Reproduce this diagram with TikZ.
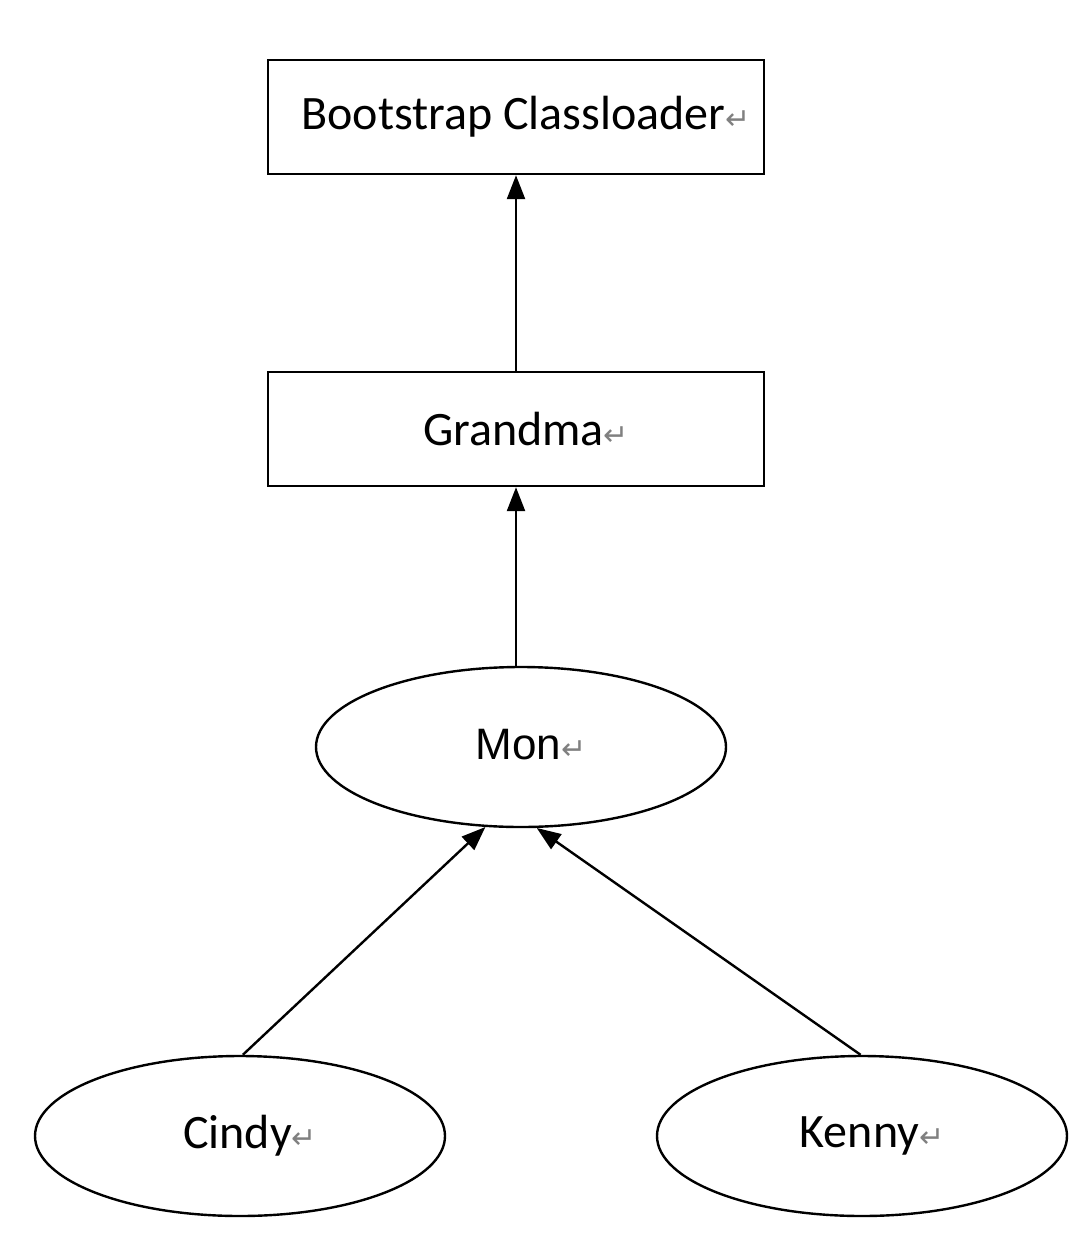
\documentclass[tikz,border=0pt]{standalone}
\usepackage{fontspec}
\setmainfont{Carlito}
\newfontfamily\arialfont{Liberation Sans}
\newfontfamily\symfont{DejaVu Sans}
\usetikzlibrary{arrows.meta,shapes.geometric}
\newcommand{\ret}{\textcolor{gray}{\symfont\fontsize{15}{17}\selectfont ↵}}
\tikzset{
  box/.style={draw, line width=1.2pt, minimum width=248pt, minimum height=57pt, inner sep=0pt,
    font=\fontsize{24}{28}\selectfont},
  oval/.style={draw, ellipse, line width=1.2pt, minimum width=205pt, minimum height=80pt, inner sep=0pt,
    font=\fontsize{24}{28}\selectfont},
  parent/.style={-{Triangle[length=12pt,width=9pt]}, line width=1.2pt}
}
\begin{document}
\begin{tikzpicture}[x=0.5pt,y=-0.5pt]
        \useasboundingbox (0,0) rectangle (1088,1236);
        \node[box] (boot) at (516,117) {\hspace*{10pt}Bootstrap Classloader\ret};
        \node[box] (grandma) at (516,429) {\hspace*{10pt}Grandma\ret};
        \node[oval] (mon) at (521,747) {\hspace*{10pt}\raisebox{3pt}{\arialfont\fontsize{22}{26}\selectfont Mon\ret}};
        \node[oval] (cindy) at (240,1136) {\hspace*{10pt}\raisebox{2pt}{Cindy\ret}};
        \node[oval] (kenny) at (862,1136) {\hspace*{10pt}\raisebox{2pt}{Kenny\ret}};
        %
        \draw[parent] (grandma.north) -- (boot.south);
        \draw[parent] (mon.north -| grandma.south) -- (grandma.south);
        \draw[parent] (cindy.88) -- (mon.246);
        \draw[parent] (kenny.91) -- (mon.281);
    \end{tikzpicture}
\end{document}
